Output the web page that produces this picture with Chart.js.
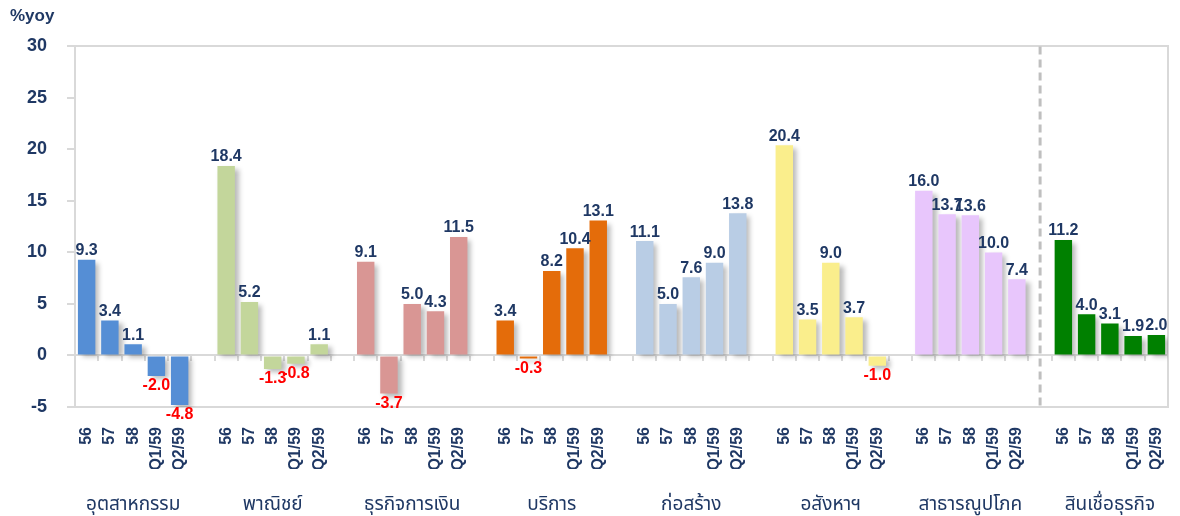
<!DOCTYPE html>
<html>
<head>
<meta charset="utf-8">
<script src="https://cdn.jsdelivr.net/npm/chart.js@4/dist/chart.umd.min.js"></script>
<style>
  html, body { margin: 0; padding: 0; background: #fff; }
  #wrap { width: 1180px; height: 516px; }
</style>
</head>
<body>
<div id="wrap"><canvas id="myBarChart"></canvas></div>
<script>
// groups of bars, each with the same five periods
const groups = ['อุตสาหกรรม', 'พาณิชย์', 'ธุรกิจการเงิน', 'บริการ', 'ก่อสร้าง', 'อสังหาฯ', 'สาธารณูปโภค', 'สินเชื่อธุรกิจ'];
const periods = ['56', '57', '58', 'Q1/59', 'Q2/59'];
const industry = [9.3, 3.4, 1.1, -2.0, -4.8];
const commerce = [18.4, 5.2, -1.3, -0.8, 1.1];
const finance = [9.1, -3.7, 5.0, 4.3, 11.5];
const services = [3.4, -0.3, 8.2, 10.4, 13.1];
const construction = [11.1, 5.0, 7.6, 9.0, 13.8];
const realEstate = [20.4, 3.5, 9.0, 3.7, -1.0];
const utilities = [16.0, 13.7, 13.6, 10.0, 7.4];
const businessLoans = [11.2, 4.0, 3.1, 1.9, 2.0];
const groupColors = ['#558ED5', '#C3D69B', '#D99694', '#E46C0A', '#B9CDE5', '#FAEE8C', '#E8C6FC', '#008000'];
const yTicks = [-5, 0, 5, 10, 15, 20, 25, 30];

const allSeries = [industry, commerce, finance, services, construction, realEstate, utilities, businessLoans];

// flatten into one row of slots, with an empty slot between groups
let slotLabels = [];
let groupLabels = [];
let values = [];
let colors = [];
allSeries.forEach((series, g) => {
    series.forEach((v, i) => {
        slotLabels.push(periods[i]);
        groupLabels.push(i === 2 ? groups[g] : '');
        values.push(v);
        colors.push(groupColors[g]);
    });
    if (g < allSeries.length - 1) {
        slotLabels.push('');
        groupLabels.push('');
        values.push(null);
        colors.push('rgba(0,0,0,0)');
    }
});
const dividerSlot = slotLabels.length - 6; // gap before the last group

const navy = '#1F3864';
const thaiFont = "Tahoma, 'Noto Sans Thai', 'Noto Sans', 'DejaVu Sans', sans-serif";

const shadowPlugin = {
    id: 'barShadow',
    beforeDatasetsDraw(chart) {
        const ctx = chart.ctx;
        ctx.save();
        ctx.shadowColor = 'rgba(0,0,0,0.28)';
        ctx.shadowBlur = 5;
        ctx.shadowOffsetX = 4;
        ctx.shadowOffsetY = 3;
    },
    afterDatasetsDraw(chart) {
        chart.ctx.restore();
    }
};

const valueLabelPlugin = {
    id: 'valueLabels',
    afterDatasetsDraw(chart) {
        const ctx = chart.ctx;
        const meta = chart.getDatasetMeta(0);
        ctx.save();
        ctx.font = 'bold 16px Arial, "Liberation Sans", sans-serif';
        ctx.textAlign = 'center';
        meta.data.forEach((bar, i) => {
            const v = values[i];
            if (v === null) return;
            if (v >= 0) {
                ctx.fillStyle = navy;
                ctx.textBaseline = 'bottom';
                ctx.fillText(v.toFixed(1), bar.x, bar.y - 1);
            } else {
                ctx.fillStyle = '#FF0000';
                ctx.textBaseline = 'top';
                ctx.fillText(v.toFixed(1), bar.x, bar.y + 2);
            }
        });
        ctx.restore();
    }
};

const dividerPlugin = {
    id: 'divider',
    afterDatasetsDraw(chart) {
        const ctx = chart.ctx;
        const x = chart.scales.x.getPixelForValue(dividerSlot);
        const area = chart.chartArea;
        ctx.save();
        ctx.strokeStyle = '#BFBFBF';
        ctx.lineWidth = 3;
        ctx.setLineDash([8, 5]);
        ctx.beginPath();
        ctx.moveTo(x, area.top);
        ctx.lineTo(x, area.bottom);
        ctx.stroke();
        ctx.restore();
    }
};

const ctx = document.getElementById('myBarChart').getContext('2d');
const chart = new Chart(ctx, {
    type: 'bar',
    data: {
        labels: slotLabels,
        datasets: [{
            data: values,
            backgroundColor: colors,
            categoryPercentage: 1.0,
            barPercentage: 0.75
        }]
    },
    options: {
        responsive: true,
        maintainAspectRatio: false,
        animation: false,
        layout: { padding: { left: 10, right: 10, top: 0, bottom: 0 } },
        plugins: {
            legend: { display: false },
            tooltip: { enabled: false },
            title: {
                display: true,
                text: '%yoy',
                align: 'start',
                color: navy,
                font: { family: 'Arial, "Liberation Sans", sans-serif', size: 17, weight: 'bold' },
                padding: { top: 6, bottom: 20 }
            }
        },
        scales: {
            y: {
                min: -5,
                max: 30,
                afterBuildTicks(scale) {
                    scale.ticks = yTicks.map(v => ({ value: v }));
                },
                afterFit(scale) { scale.width = 65; },
                border: { display: true, color: '#D9D9D9', width: 2 },
                grid: {
                    color: c => (c.tick && [30, 0, -5].includes(c.tick.value)) ? '#D9D9D9' : 'rgba(0,0,0,0)',
                    lineWidth: 2,
                    tickColor: '#D9D9D9',
                    tickLength: 8
                },
                ticks: {
                    color: navy,
                    padding: 20,
                    font: { family: 'Arial, "Liberation Sans", sans-serif', size: 18, weight: 'bold' }
                }
            },
            yRight: {
                type: 'linear',
                position: 'right',
                min: -5,
                max: 30,
                afterFit(scale) { scale.width = 2; },
                border: { display: true, color: '#D9D9D9', width: 2 },
                grid: { display: false, drawTicks: false },
                ticks: { display: false }
            },
            x: {
                offset: true,
                afterFit(scale) {
                    scale.height = 62;
                    scale.paddingLeft = 0;
                    scale.paddingRight = 0;
                },
                border: { display: false },
                grid: { display: false },
                ticks: {
                    autoSkip: false,
                    maxRotation: 90,
                    minRotation: 90,
                    padding: 12,
                    color: navy,
                    font: { family: 'Arial, "Liberation Sans", sans-serif', size: 16, weight: 'bold' }
                }
            },
            groupAxis: {
                type: 'category',
                axis: 'x',
                position: 'bottom',
                labels: groupLabels,
                offset: true,
                afterFit(scale) {
                    scale.height = 47;
                    scale.paddingLeft = 0;
                    scale.paddingRight = 0;
                },
                border: { display: false },
                grid: { display: false },
                ticks: {
                    autoSkip: false,
                    maxRotation: 0,
                    minRotation: 0,
                    padding: 18,
                    color: navy,
                    font: { family: thaiFont, size: 19 }
                }
            },
            zeroAxis: {
                type: 'category',
                axis: 'x',
                position: { y: 0 },
                labels: slotLabels,
                offset: true,
                border: { display: false },
                grid: {
                    offset: true,
                    drawOnChartArea: false,
                    drawTicks: true,
                    tickLength: 6,
                    tickColor: '#D9D9D9',
                    lineWidth: 2
                },
                ticks: { display: false }
            }
        }
    },
    plugins: [shadowPlugin, valueLabelPlugin, dividerPlugin]
});
</script>
</body>
</html>
